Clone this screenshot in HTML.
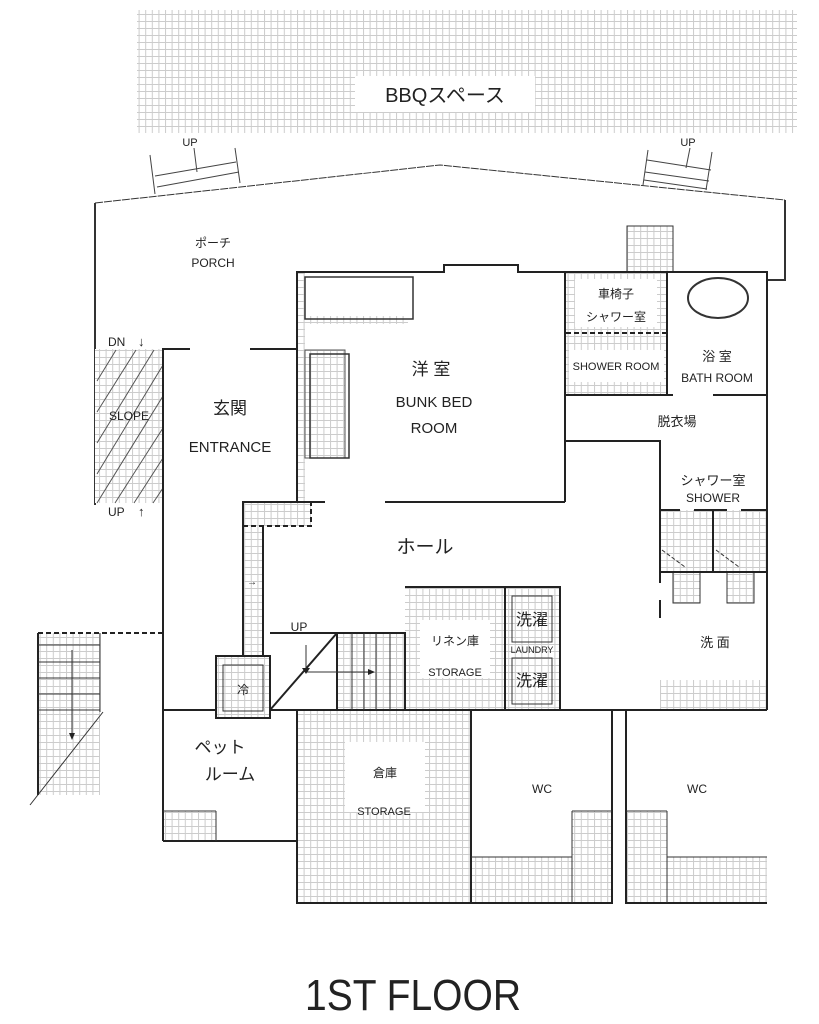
<!DOCTYPE html>
<html><head><meta charset="utf-8"><style>
html,body{margin:0;padding:0;background:#fff}
svg{display:block}
text{font-family:"Liberation Sans","Noto Sans CJK JP",sans-serif;fill:#222}
</style></head><body>
<svg width="819" height="1024" viewBox="0 0 819 1024" xmlns="http://www.w3.org/2000/svg">
<defs>
<pattern id="g" width="6.6" height="7" patternUnits="userSpaceOnUse">
<rect width="6.6" height="7" fill="#fff"/>
<path d="M0 0.5H6.6M0.5 0V7" stroke="#cccccc" stroke-width="1" fill="none"/>
</pattern>
</defs>
<!-- BBQ -->
<rect x="137" y="10" width="660" height="123" fill="url(#g)"/>
<rect x="355" y="76" width="180" height="36" fill="#fff"/>
<text x="445" y="102" font-size="20" text-anchor="middle" fill="#111">BBQスペース</text>
<!-- top stairs -->
<text x="190" y="146" font-size="11" text-anchor="middle" fill="#444">UP</text>
<g stroke="#444" stroke-width="1" fill="none">
<path d="M150 155 L155 194 M235 148 L240 183"/>
<path d="M155 176 L236 162 M157 187 L239 172"/>
<path d="M194 148 L197 172"/>
<text x="688" y="146" font-size="11" text-anchor="middle" fill="#444" stroke="none">UP</text>
<path d="M648 150 L643 185 M712 152 L706 190"/>
<path d="M647 160 L711 170 M645 172 L709 181 M644 180 L707 189"/>
<path d="M690 148 L686 168"/>
</g>
<!-- porch outline -->
<path d="M95 203 L440 165 L785 200" stroke="#333" stroke-width="1" fill="none" stroke-dasharray="8 1"/>
<path d="M95 203 V505 M785 200 V280 H767" stroke="#333" stroke-width="2" fill="none"/>
<text x="213" y="247" font-size="12" text-anchor="middle" fill="#444">ポーチ</text>
<text x="213" y="267" font-size="12" text-anchor="middle" fill="#444">PORCH</text>
<!-- slope -->
<rect x="95" y="349" width="68" height="154" fill="url(#g)"/>
<g stroke="#555" stroke-width="1">
<path d="M97 381 L116 350 M97 412 L136 350 M97 443 L154 350 M97 474 L163 365 M97 503 L163 396 M115 503 L163 428 M134 503 L163 458 M153 503 L163 488"/>
</g>
<text x="129" y="420" font-size="12" text-anchor="middle">SLOPE</text>
<text x="108" y="346" font-size="12" fill="#444">DN</text>
<text x="138" y="346" font-size="13" fill="#444">↓</text>
<text x="108" y="516" font-size="12" fill="#444">UP</text>
<text x="138" y="516" font-size="13" fill="#444">↑</text>
<!-- grid areas -->
<rect x="627" y="226" width="46" height="46" fill="url(#g)" stroke="#333" stroke-width="1"/>
<rect x="566" y="272" width="101" height="123" fill="url(#g)"/>
<rect x="575" y="279" width="82" height="48" fill="#fff"/>
<rect x="569" y="350" width="95" height="32" fill="#fff"/>
<rect x="297" y="272" width="8" height="230" fill="url(#g)"/>
<rect x="305" y="316" width="103" height="8" fill="url(#g)"/>
<rect x="305" y="350" width="40" height="108" fill="url(#g)" stroke="#555" stroke-width="1"/>
<rect x="243" y="502" width="68" height="24" fill="url(#g)"/>
<rect x="243" y="526" width="20" height="130" fill="url(#g)"/>
<rect x="216" y="656" width="54" height="62" fill="url(#g)"/>
<rect x="337" y="633" width="68" height="77" fill="url(#g)"/>
<rect x="405" y="587" width="155" height="123" fill="url(#g)"/>
<rect x="420" y="620" width="70" height="58" fill="#fff"/>
<rect x="660" y="510" width="108" height="62" fill="url(#g)"/>
<rect x="673" y="572" width="27" height="31" fill="url(#g)" stroke="#333" stroke-width="1"/>
<rect x="727" y="572" width="27" height="31" fill="url(#g)" stroke="#333" stroke-width="1"/>
<rect x="660" y="680" width="107" height="30" fill="url(#g)"/>
<rect x="163" y="811" width="53" height="30" fill="url(#g)"/>
<rect x="297" y="710" width="174" height="193" fill="url(#g)"/>
<rect x="345" y="742" width="80" height="70" fill="#fff"/>
<rect x="572" y="811" width="40" height="92" fill="url(#g)"/>
<rect x="471" y="857" width="101" height="46" fill="url(#g)"/>
<rect x="626" y="811" width="41" height="92" fill="url(#g)"/>
<rect x="667" y="857" width="100" height="46" fill="url(#g)"/>
<rect x="38" y="633" width="62" height="162" fill="url(#g)"/>
<!-- walls -->
<g stroke="#222" stroke-width="2" fill="none">
<path d="M297 502 V272 H444 V265 H518 V272 H767 V710"/>
<path d="M565 272 V502 M566 395 H673 M667 272 V395"/>
<path d="M713 395 H767"/>
<path d="M565 441 H660 V583 M660 600 V618"/>
<path d="M660 510 H680 M694 510 H727 M741 510 H768 M713 510 V572 M660 572 H768"/>
<path d="M297 502 H325 M385 502 H565"/>
<path d="M163 841 V349 H190 M250 349 H297"/>
<path d="M243 656 V502 H311 M263 526 V656"/>
<path d="M216 656 H270 V718 H216 Z"/>
<path d="M270 633 H405 V710 M270 710 L337 633 M337 633 V710"/>
<path d="M405 587 H560 V710 M505 587 V710"/>
<path d="M163 710 H216 M270 710 H767"/>
<path d="M163 841 H297 M297 710 V903 H612 V710 M471 710 V903 M626 710 V903 H767"/>
<path d="M38 633 V795"/>
</g>
<g stroke="#333" stroke-width="1" fill="none">
<rect x="305" y="277" width="108" height="42" stroke-width="1.5"/>
<rect x="310" y="354" width="39" height="104" stroke-width="1.5"/>
<rect x="223" y="665" width="40" height="46"/>
<rect x="512" y="596" width="40" height="46"/>
<rect x="512" y="658" width="40" height="46"/>
<path d="M352 633V710 M364 633V710 M376 633V710 M390 633V710"/>
<path d="M306 645 V670 M306 672 H368"/>
<path d="M216 811 V841 M163 811 H216"/>
<path d="M572 811 V903 M572 811 H612 M471 857 H572 M667 811 V903 M626 811 H667 M667 857 H767"/>
<path d="M38 645 H100 M38 662 H100 M38 678 H100 M38 694 H100 M38 710 H100 M100 633 V712 M72 650 V735"/>
<path d="M30 805 L103 712"/>
<path d="M662 550 L685 567 M716 550 L739 567" stroke-dasharray="4 2"/>
<ellipse cx="718" cy="298" rx="30" ry="20" stroke-width="2"/>
</g>
<g stroke="#222" stroke-width="2" fill="none" stroke-dasharray="5 3">
<path d="M566 333 H667"/>
<path d="M243 526 H311 V502"/>
<path d="M38 633 H163"/>
</g>
<path d="M302 668 L306 674 L310 668Z M368 669 L375 672 L368 675Z M69 733 L72 740 L75 733Z" fill="#222"/>
<!-- labels -->
<text x="431" y="375" font-size="17" text-anchor="middle">洋 室</text>
<text x="434" y="407" font-size="15" text-anchor="middle">BUNK BED</text>
<text x="434" y="433" font-size="15" text-anchor="middle">ROOM</text>
<text x="230" y="414" font-size="17" text-anchor="middle">玄関</text>
<text x="230" y="452" font-size="15" text-anchor="middle">ENTRANCE</text>
<text x="425" y="553" font-size="19" text-anchor="middle">ホール</text>
<text x="616" y="298" font-size="12" text-anchor="middle">車椅子</text>
<text x="616" y="321" font-size="12" text-anchor="middle">シャワー室</text>
<text x="616" y="370" font-size="11" text-anchor="middle">SHOWER ROOM</text>
<text x="717" y="361" font-size="13" text-anchor="middle">浴 室</text>
<text x="717" y="382" font-size="12" text-anchor="middle">BATH ROOM</text>
<text x="677" y="426" font-size="13" text-anchor="middle">脱衣場</text>
<text x="713" y="485" font-size="13" text-anchor="middle">シャワー室</text>
<text x="713" y="502" font-size="12" text-anchor="middle">SHOWER</text>
<text x="715" y="647" font-size="13" text-anchor="middle">洗 面</text>
<text x="455" y="645" font-size="12" text-anchor="middle">リネン庫</text>
<text x="455" y="676" font-size="11" text-anchor="middle">STORAGE</text>
<text x="532" y="625" font-size="16" text-anchor="middle">洗濯</text>
<text x="532" y="653" font-size="9" text-anchor="middle">LAUNDRY</text>
<text x="532" y="686" font-size="16" text-anchor="middle">洗濯</text>
<text x="243" y="694" font-size="12" text-anchor="middle">冷</text>
<text x="299" y="631" font-size="12" text-anchor="middle" fill="#444">UP</text>
<text x="252" y="585" font-size="10" text-anchor="middle">→</text>
<text x="220" y="753" font-size="17" text-anchor="middle">ペット</text>
<text x="230" y="780" font-size="17" text-anchor="middle">ルーム</text>
<text x="385" y="777" font-size="12" text-anchor="middle">倉庫</text>
<text x="384" y="815" font-size="11" text-anchor="middle">STORAGE</text>
<text x="542" y="793" font-size="12" text-anchor="middle">WC</text>
<text x="697" y="793" font-size="12" text-anchor="middle">WC</text>
<text x="305" y="1010" font-size="44" textLength="216" lengthAdjust="spacingAndGlyphs" fill="#000">1ST FLOOR</text>
</svg>
</body></html>
